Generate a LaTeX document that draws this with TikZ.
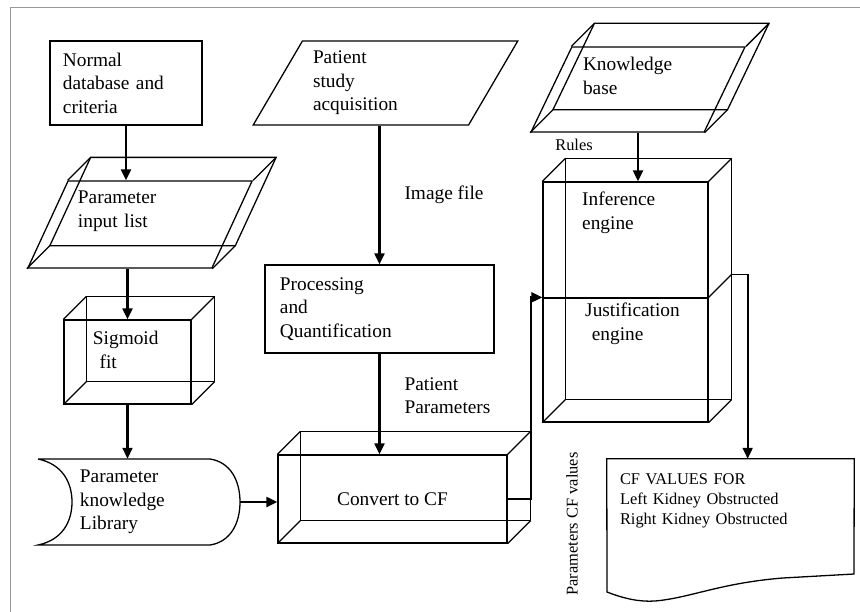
\documentclass[tikz,border=0pt]{standalone}
\usepackage{fontspec}
\setmainfont{Liberation Serif}
\usetikzlibrary{shapes.geometric,arrows.meta,calc,positioning}

\newcommand{\boxdepth}[4]{%
\draw[boxline] ([shift={(23,-23)}]#1) -- ([shift={(23,-23)}]#2) -- ([shift={(23,-23)}]#3) -- ([shift={(23,-23)}]#4) -- cycle;
\foreach \c in {#1,#2,#3,#4} \draw[boxline] (\c) -- ([shift={(23,-23)}]\c);}

\begin{document}
\begin{tikzpicture}[x=0.03cm, y=-0.03cm,
  boxline/.style={line width=1.1pt},
  arr/.style={line width=1.8pt, -{Triangle[length=0.33cm,width=0.3cm]}},
  txt/.style={font=\fontsize{16.5}{20}\selectfont, align=left},
  small/.style={font=\fontsize{14}{17}\selectfont, align=left, inner sep=0pt},
  lbl/.style={txt, inner sep=0pt},
  blk/.style={draw, boxline, rectangle, txt},
  para/.style={draw, boxline, trapezium, trapezium stretches=true, txt}]
\useasboundingbox (0,0) rectangle (860,612);
\draw[gray!80, line width=0.8pt] (10,612) -- (10,7) -- (860,7);

\node[blk, minimum width=4.56cm, minimum height=2.52cm, text width=3.78cm] (ndb) at (126,83) {Normal\\database and\\criteria};
\node[para, trapezium left angle=63.7, trapezium right angle=116.3, minimum width=6.74cm, minimum height=2.61cm, text width=3.72cm, text depth=1.62cm] (pil) at (140,224.5) {Parameter\\input list};
\boxdepth{pil.top left corner}{pil.top right corner}{pil.bottom right corner}{pil.bottom left corner}
\node[blk, minimum width=3.81cm, minimum height=2.52cm, text width=2.07cm, text depth=1.43cm] (sig) at (127.5,362) {Sigmoid\\\hspace*{0.2cm}fit};
\boxdepth{sig.north west}{sig.north east}{sig.south east}{sig.south west}
\node[txt, minimum width=6.06cm, minimum height=2.58cm, text width=3.54cm] (lib) at (139,502) {Parameter\\knowledge\\Library};
\draw[boxline] (38,459) -- (210,459) .. controls (230,462) and (240,480) .. (240,502) .. controls (240,524) and (230,542) .. (210,545) -- (38,545) .. controls (62,540) and (72,522) .. (72,502) .. controls (72,482) and (62,464) .. (38,459);

\node[para, trapezium left angle=57.7, trapezium right angle=122.3, minimum width=7.95cm, minimum height=2.52cm, text width=4.35cm] (psa) at (385.5,83) {Patient\\study\\acquisition};
\node[blk, minimum width=6.87cm, minimum height=2.64cm, text width=5.97cm] (pq) at (379.5,309) {Processing\\and\\Quantification};
\node[blk, minimum width=6.87cm, minimum height=2.64cm] (cf) at (392.5,499) {Convert to CF};
\boxdepth{cf.north west}{cf.north east}{cf.south east}{cf.south west}

\node[para, trapezium left angle=63.2, trapezium right angle=116.8, minimum width=6.42cm, minimum height=2.55cm, text width=3.3cm, text depth=1.52cm] (kb) at (638,89.5) {Knowledge\\base};
\boxdepth{kb.top left corner}{kb.top right corner}{kb.bottom right corner}{kb.bottom left corner}
\node[small] (rules) at (574,145) {Rules};
\node[blk, minimum width=4.95cm, minimum height=3.48cm] (inf) at (625.5,240) {};
\node[blk, minimum width=4.95cm, minimum height=3.72cm] (jus) at (625.5,360) {};
\boxdepth{inf.north west}{inf.north east}{jus.south east}{jus.south west}
\draw[boxline] (jus.north east) -- ++(23,-23);
\node[lbl, anchor=north west] (inft) at (582,192) {Inference\\engine};
\node[lbl, anchor=north west] (just) at (585,303) {Justification\\\hspace*{0.2cm}engine};

\node[small, rotate=90] (pcfv) at (572,524) {Parameters CF values};
\node[small, minimum width=7.41cm, minimum height=3.99cm, text width=6.63cm, text depth=2.76cm] (cfv) at (730.5,525.5) {CF VALUES FOR\\Left Kidney Obstructed\\Right Kidney Obstructed};
\draw[boxline] (cfv.north west) -- (cfv.north east) -- (854,574) -- (783,578) .. controls (720,583) and (690,598) .. (655,601) .. controls (640,602) and (625,599) .. (607,592) -- cycle;

\draw[arr](ndb.south) -- (ndb.south |- pil.north);
\draw[arr](sig.north |- pil.south) -- (sig.north);
\draw[arr](sig.south) -- (sig.south |- lib.north);
\draw[arr](lib.east) -- (lib.east -| cf.west);
\draw[arr](pq.north |- psa.south) -- node[lbl, right=0.72cm] (imgf) {Image file} (pq.north);
\draw[arr](pq.south) -- node[lbl, pos=0.42, right=0.72cm] (ppar) {Patient\\Parameters} (pq.south |- cf.north);
\draw[arr](kb.south) -- (kb.south |- inf.north);
\draw[arr](cf.east) -- ++(23,0) |- (jus.north west);
\coordinate (jout) at ($(jus.north east)+(23,-23)$);
\coordinate (jbend) at ($(jout)+(16,0)$);
\draw[thin] (jout) -- (jbend);
\draw[arr](jbend) -- (jbend |- cfv.north);
\end{tikzpicture}
\end{document}
